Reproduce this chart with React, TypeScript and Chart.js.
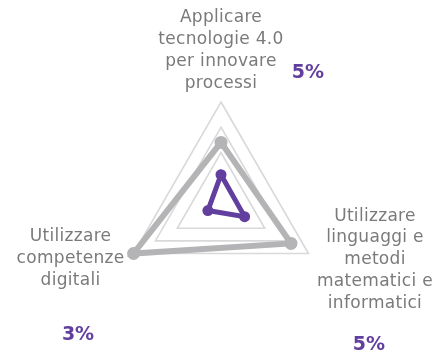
import React, { useEffect, useRef } from "react";
import { Chart, registerables } from "chart.js";

Chart.register(...registerables);

// Axes (clockwise from top)
const axisLabels: string[][] = [
  ["Applicare", "tecnologie 4.0", "per innovare", "processi"],
  ["Utilizzare", "linguaggi e", "metodi", "matematici e", "informatici"],
  ["Utilizzare", "competenze", "digitali"],
];
const percentLabels: string[] = ["5%", "5%", "3%"];

const greyValues: number[] = [12, 16, 20];
const purpleValues: number[] = [5.6, 5.4, 3.0];

const scaleMin = 0;
const scaleMax = 20;
const scaleStep = 5;

const PURPLE = "#623f9e";
const GREY = "#b4b4b7";
const TEXT_GREY = "#7a7a7a";

// label placement relative to each vertex (style only)
const LABEL_POS = [
  { dx: 0, dy: -80.3, lh: 22.2 },
  { dx: 66.5, dy: -32.8, lh: 21.7 },
  { dx: -63, dy: -12.8, lh: 22 },
];
const PCT_POS = [
  { dx: 87, dy: -29 },
  { dx: 60.5, dy: 92 },
  { dx: -55.5, dy: 81.5 },
];

const vertexLabelPlugin = {
  id: "vertexLabels",
  afterDatasetsDraw(chart: any) {
    const scale = chart.scales.r;
    const ctx = chart.ctx as CanvasRenderingContext2D;
    ctx.save();
    axisLabels.forEach((lines, i) => {
      const v = scale.getPointPosition(i, scale.drawingArea);
      const p = LABEL_POS[i];
      ctx.font = '17px "DejaVu Sans"';
      (ctx as any).letterSpacing = "0.3px";
      ctx.fillStyle = TEXT_GREY;
      ctx.textAlign = "center";
      ctx.textBaseline = "alphabetic";
      lines.forEach((line, k) => {
        ctx.fillText(line, v.x + p.dx, v.y + p.dy + k * p.lh);
      });
      const q = PCT_POS[i];
      ctx.font = 'bold 19px "DejaVu Sans"';
      (ctx as any).letterSpacing = "0px";
      ctx.fillStyle = PURPLE;
      ctx.textBaseline = "middle";
      ctx.fillText(percentLabels[i], v.x + q.dx, v.y + q.dy);
    });
    ctx.restore();
  },
};

export default function App() {
  const canvasRef = useRef<HTMLCanvasElement | null>(null);

  useEffect(() => {
    if (!canvasRef.current) return;
    const chart = new Chart(canvasRef.current, {
      type: "radar",
      data: {
        labels: axisLabels.map((l) => l.join(" ")),
        datasets: [
          {
            label: "purple",
            data: purpleValues,
            borderColor: PURPLE,
            backgroundColor: "transparent",
            borderWidth: 5,
            pointRadius: 5.5,
            pointBackgroundColor: PURPLE,
            pointBorderColor: PURPLE,
            pointBorderWidth: 0,
            fill: false,
          },
          {
            label: "grey",
            data: greyValues,
            borderColor: GREY,
            backgroundColor: "transparent",
            borderWidth: 6,
            pointRadius: 6.5,
            pointBackgroundColor: GREY,
            pointBorderColor: GREY,
            pointBorderWidth: 0,
            fill: false,
          },
        ],
      },
      options: {
        responsive: false,
        animation: false,
        layout: { padding: { left: 120, right: 115, top: 102, bottom: 54 } },
        plugins: {
          legend: { display: false },
          tooltip: { enabled: false },
        },
        scales: {
          r: {
            min: scaleMin,
            max: scaleMax,
            ticks: { display: false, stepSize: scaleStep },
            angleLines: { display: false },
            pointLabels: { display: false },
            grid: {
              color: (c: any) =>
                c.tick && c.tick.value === scaleStep ? "rgba(0,0,0,0)" : "#d9d9d9",
              lineWidth: 1.6,
            },
          },
        },
      },
      plugins: [vertexLabelPlugin],
    });
    return () => chart.destroy();
  }, []);

  return (
    <div style={{ position: "absolute", left: 0, top: 0, width: 437, height: 358, background: "#fff" }}>
      <canvas ref={canvasRef} width={437} height={358} />
    </div>
  );
}
